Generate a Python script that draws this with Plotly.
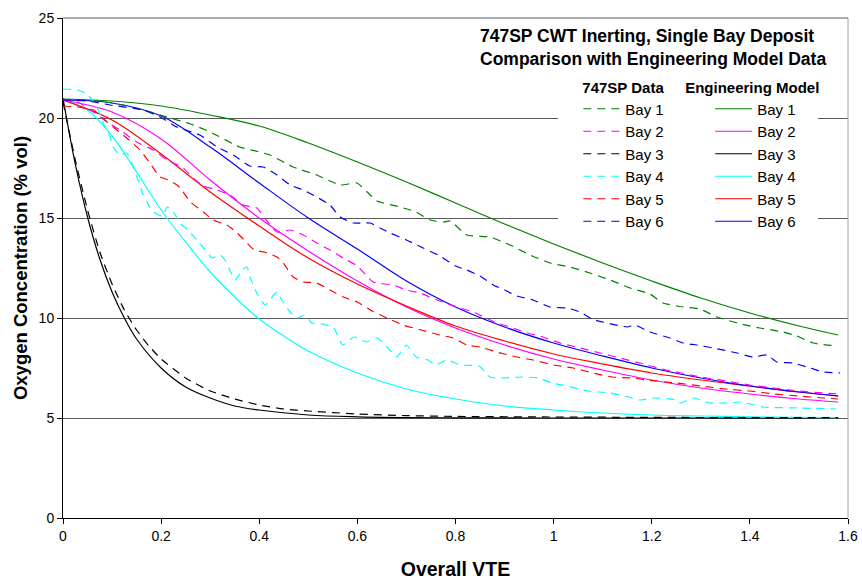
import plotly.graph_objects as go

# ---------------- data ----------------
bay_names = ["Bay 1", "Bay 2", "Bay 3", "Bay 4", "Bay 5", "Bay 6"]

# Engineering model (solid)
model_x = [0, 0.1, 0.2, 0.3, 0.4, 0.5, 0.6, 0.7, 0.8, 0.9, 1.0, 1.1, 1.2, 1.3, 1.4, 1.5, 1.58]
model_bay1 = [20.95, 20.85, 20.6, 20.15, 19.6, 18.75, 17.8, 16.8, 15.75, 14.7, 13.7, 12.75, 11.85, 11.0, 10.25, 9.6, 9.15]
model_bay2 = [20.9, 20.3, 18.95, 16.9, 15.0, 13.35, 11.85, 10.55, 9.5, 8.65, 7.95, 7.4, 6.9, 6.5, 6.2, 5.95, 5.8]
model_bay5 = [20.9, 19.9, 18.2, 16.3, 14.6, 13.0, 11.7, 10.6, 9.6, 8.85, 8.2, 7.7, 7.25, 6.9, 6.6, 6.3, 6.1]
model_bay6 = [20.9, 20.75, 20.1, 18.55, 16.75, 15.0, 13.45, 11.85, 10.55, 9.55, 8.75, 8.1, 7.5, 7.0, 6.6, 6.3, 6.1]

model_bay3_x = [0, 0.025, 0.05, 0.075, 0.1, 0.125, 0.15, 0.2, 0.25, 0.3, 0.35, 0.4, 0.5, 0.6, 0.8, 1.0, 1.2, 1.4, 1.58]
model_bay3 = [21.0, 17.7, 15.05, 12.95, 11.3, 10.0, 8.95, 7.5, 6.55, 6.0, 5.6, 5.4, 5.15, 5.06, 5.01, 5.0, 5.0, 5.0, 5.0]

model_bay4_x = [0, 0.05, 0.1, 0.15, 0.2, 0.25, 0.3, 0.35, 0.4, 0.45, 0.5, 0.6, 0.7, 0.8, 0.9, 1.0, 1.1, 1.2, 1.3, 1.4, 1.5, 1.58]
model_bay4 = [20.9, 20.4, 19.1, 17.3, 15.4, 13.8, 12.3, 11.05, 9.95, 9.1, 8.35, 7.25, 6.45, 5.95, 5.6, 5.4, 5.25, 5.15, 5.1, 5.06, 5.03, 5.02]

# 747SP measured data (dashed)
data_bay1_x = [0, 0.05, 0.1, 0.13, 0.163, 0.218, 0.26, 0.30, 0.36, 0.40, 0.422, 0.469, 0.517, 0.565, 0.599, 0.62,
               0.64, 0.687, 0.72, 0.748, 0.775, 0.789, 0.823, 0.87, 0.911, 0.952, 0.993, 1.033, 1.074, 1.115, 1.156,
               1.196, 1.223, 1.264, 1.298, 1.333, 1.374, 1.42, 1.468, 1.496, 1.529, 1.578]
data_bay1 = [20.9, 20.9, 20.75, 20.6, 20.4, 20.0, 19.7, 19.3, 18.55, 18.3, 18.15, 17.55, 17.15, 16.65, 16.75, 16.3,
             15.85, 15.55, 15.3, 14.9, 14.8, 14.85, 14.15, 14.05, 13.65, 13.15, 12.75, 12.55, 12.25, 11.9, 11.5,
             11.2, 10.75, 10.55, 10.45, 10.05, 9.75, 9.5, 9.3, 9.1, 8.75, 8.6]

data_bay2_x = [0, 0.03, 0.062, 0.09, 0.116, 0.15, 0.184, 0.212, 0.245, 0.265, 0.286, 0.314, 0.34, 0.367, 0.395,
               0.416, 0.436, 0.463, 0.49, 0.517, 0.544, 0.571, 0.60, 0.632, 0.673, 0.70, 0.728, 0.762, 0.803, 0.836,
               0.884, 0.911, 0.946, 0.978, 1.013, 1.054, 1.095, 1.135, 1.176, 1.22, 1.26, 1.30, 1.35, 1.40, 1.45,
               1.50, 1.55, 1.58]
data_bay2 = [20.9, 20.8, 20.3, 19.8, 19.4, 18.8, 18.4, 17.9, 17.5, 17.0, 16.6, 16.4, 16.15, 15.65, 15.5,
             14.85, 14.3, 14.4, 14.15, 13.75, 13.4, 13.0, 12.6, 11.8, 11.65, 11.4, 11.25, 10.9, 10.55, 10.3,
             9.75, 9.55, 9.25, 9.05, 8.75, 8.5, 8.25, 8.0, 7.75, 7.45, 7.25, 7.05, 6.85, 6.65, 6.5,
             6.35, 6.25, 6.2]

data_bay3_x = [0, 0.025, 0.05, 0.075, 0.1, 0.125, 0.15, 0.175, 0.2, 0.25, 0.3, 0.35, 0.4, 0.45, 0.5, 0.6, 0.7,
               0.8, 1.0, 1.2, 1.4, 1.58]
data_bay3 = [20.8, 17.9, 15.4, 13.3, 11.7, 10.4, 9.4, 8.6, 7.95, 7.0, 6.35, 5.95, 5.65, 5.45, 5.35, 5.2, 5.12,
             5.08, 5.05, 5.03, 5.02, 5.02]

data_bay4_x = [0, 0.03, 0.049, 0.069, 0.082, 0.096, 0.102, 0.116, 0.13, 0.14, 0.153, 0.163, 0.177, 0.19, 0.204,
               0.212, 0.225, 0.24, 0.255, 0.273, 0.29, 0.304, 0.32, 0.33, 0.34, 0.351, 0.365, 0.375, 0.381, 0.395,
               0.412, 0.426, 0.436, 0.446, 0.463, 0.477, 0.493, 0.507, 0.53, 0.552, 0.57, 0.593, 0.618, 0.64,
               0.666, 0.68, 0.70, 0.72, 0.744, 0.76, 0.782, 0.81, 0.848, 0.87, 0.893, 0.937, 0.968, 0.997, 1.027,
               1.07, 1.115, 1.152, 1.174, 1.205, 1.25, 1.257, 1.286, 1.317, 1.354, 1.382, 1.427, 1.502, 1.576]
data_bay4 = [21.45, 21.4, 21.2, 20.55, 19.75, 19.05, 18.55, 18.15, 18.25, 17.75, 16.9, 16.2, 15.55, 15.2, 15.1,
             15.55, 15.3, 14.7, 14.4, 13.9, 13.4, 13.0, 13.15, 12.9, 12.4, 11.9, 12.4, 12.55, 12.05, 11.25,
             10.65, 11.05, 11.3, 10.9, 10.3, 10.0, 10.15, 9.75, 9.7, 9.5, 8.65, 9.05, 8.8, 9.0,
             8.4, 8.05, 8.65, 8.05, 7.9, 7.65, 7.9, 7.65, 7.6, 7.05, 7.0, 7.05, 7.0, 6.75, 6.6,
             6.35, 6.25, 6.05, 5.9, 6.0, 5.9, 5.75, 6.0, 5.75, 5.75, 5.8, 5.55, 5.5, 5.45]

data_bay5_x = [0, 0.03, 0.062, 0.09, 0.11, 0.13, 0.157, 0.177, 0.198, 0.215, 0.235, 0.26, 0.286, 0.306, 0.334,
               0.355, 0.375, 0.39, 0.41, 0.436, 0.449, 0.469, 0.49, 0.517, 0.544, 0.571, 0.60, 0.63, 0.66, 0.693,
               0.73, 0.768, 0.795, 0.823, 0.85, 0.884, 0.925, 0.958, 1.0, 1.04, 1.08, 1.12, 1.162, 1.19, 1.25,
               1.3, 1.35, 1.4, 1.45, 1.5, 1.55, 1.58]
data_bay5 = [20.6, 20.55, 20.4, 19.8, 19.4, 19.0, 18.4, 17.75, 17.05, 16.9, 16.6, 15.8, 15.3, 14.9, 14.65,
             14.25, 13.75, 13.4, 13.3, 13.05, 12.75, 12.05, 11.8, 11.75, 11.4, 11.05, 10.8, 10.35, 10.0, 9.65,
             9.4, 9.15, 9.0, 8.65, 8.55, 8.3, 8.05, 7.9, 7.65, 7.5, 7.25, 7.05, 7.0, 6.9, 6.75,
             6.6, 6.45, 6.35, 6.2, 6.1, 6.0, 5.95]

data_bay6_x = [0, 0.05, 0.096, 0.163, 0.198, 0.232, 0.279, 0.314, 0.347, 0.381, 0.408, 0.436, 0.463, 0.49, 0.517,
               0.544, 0.565, 0.592, 0.626, 0.646, 0.667, 0.70, 0.734, 0.768, 0.80, 0.823, 0.85, 0.877, 0.90, 0.925,
               0.958, 0.993, 1.027, 1.054, 1.078, 1.109, 1.15, 1.165, 1.196, 1.237, 1.264, 1.292, 1.325, 1.374,
               1.406, 1.435, 1.455, 1.488, 1.523, 1.549, 1.584]
data_bay6 = [20.9, 20.85, 20.65, 20.4, 20.05, 19.55, 19.15, 18.55, 18.15, 17.6, 17.55, 17.15, 16.65, 16.4, 16.05,
             15.65, 15.05, 14.75, 14.75, 14.5, 14.25, 13.9, 13.5, 13.1, 12.6, 12.4, 12.1, 11.65, 11.4, 11.1,
             10.9, 10.55, 10.5, 10.3, 9.95, 9.75, 9.55, 9.65, 9.3, 9.0, 8.75, 8.65, 8.5, 8.25,
             8.05, 8.15, 7.8, 7.75, 7.5, 7.3, 7.25]

x_tick_vals = [0, 0.2, 0.4, 0.6, 0.8, 1.0, 1.2, 1.4, 1.6]
y_tick_vals = [0, 5, 10, 15, 20, 25]

# ---------------- styling ----------------
colors = ["#008000", "#FF00FF", "#000000", "#00FFFF", "#FF0000", "#0000FF"]
FONT = "Arial, 'Liberation Sans', sans-serif"
GRID = "#5a5a5a"

data_series = [(data_bay1_x, data_bay1), (data_bay2_x, data_bay2), (data_bay3_x, data_bay3),
               (data_bay4_x, data_bay4), (data_bay5_x, data_bay5), (data_bay6_x, data_bay6)]
model_series = [(model_x, model_bay1), (model_x, model_bay2), (model_bay3_x, model_bay3),
                (model_bay4_x, model_bay4), (model_x, model_bay5), (model_x, model_bay6)]

fig = go.Figure()

for i, (xs, ys) in enumerate(model_series):
    fig.add_trace(go.Scatter(
        x=xs, y=ys, mode="lines", name=bay_names[i],
        line=dict(color=colors[i], width=1.2, shape="spline", smoothing=1.0),
        legend="legend2", legendgroup="m%d" % i, showlegend=True,
    ))

for i, (xs, ys) in enumerate(data_series):
    fig.add_trace(go.Scatter(
        x=xs, y=ys, mode="lines", name=bay_names[i],
        line=dict(color=colors[i], width=1.2, dash="8px,6px", shape="spline", smoothing=0.5),
        legend="legend", legendgroup="d%d" % i, showlegend=True,
    ))

legend_common = dict(
    xanchor="left", yanchor="top", y=0.890,
    bgcolor="rgba(0,0,0,0)", borderwidth=0,
    font=dict(family=FONT, size=15, color="#000000"),
    itemwidth=37, tracegroupgap=0, traceorder="normal",
)
title_font = dict(family=FONT, size=15, color="#000000")

fig.update_layout(
    width=862, height=580,
    margin=dict(l=63, r=14, t=18, b=62, autoexpand=False),
    paper_bgcolor="white", plot_bgcolor="white",
    font=dict(family=FONT, size=14, color="#000000"),
    legend=dict(x=0.659, indentation=-2,
                title=dict(text="<b>747SP Data</b>", side="top", font=title_font),
                **legend_common),
    legend2=dict(x=0.790, indentation=27,
                 title=dict(text="<b>Engineering Model</b>", side="top", font=title_font),
                 **legend_common),
    xaxis=dict(
        range=[0, 1.6], tickvals=x_tick_vals, ticks="outside", ticklen=5, tickcolor="#000000",
        showline=True, linecolor="#000000", linewidth=1, showgrid=False, zeroline=False,
        tickfont=dict(family=FONT, size=14), automargin=False,
        title=dict(text="<b>Overall VTE</b>", font=dict(family=FONT, size=19.5), standoff=23),
    ),
    yaxis=dict(
        range=[0, 25], tickvals=y_tick_vals, ticks="outside", ticklen=5, tickcolor="#000000",
        showline=True, linecolor="#000000", linewidth=1, showgrid=True, gridcolor=GRID,
        gridwidth=1, zeroline=False, automargin=False,
        tickfont=dict(family=FONT, size=14),
        title=dict(text="<b>Oxygen Concentration (% vol)</b>", font=dict(family=FONT, size=18.5), standoff=6),
    ),
    shapes=[
        dict(type="rect", xref="paper", yref="paper", x0=0.6306, x1=0.9618, y0=0.572, y1=0.886,
             fillcolor="white", line=dict(width=0), layer="above"),
        dict(type="line", xref="paper", yref="paper", x0=1, x1=1, y0=0, y1=1,
             line=dict(color="#a0a0a0", width=1), layer="above"),
        dict(type="line", xref="paper", yref="paper", x0=0, x1=1, y0=1, y1=1,
             line=dict(color=GRID, width=1), layer="above"),
    ],
    annotations=[
        dict(text="<b>747SP CWT Inerting, Single Bay Deposit<br>Comparison with Engineering Model Data</b>",
             xref="paper", yref="paper", x=0.529, y=0.942, xanchor="left", yanchor="middle",
             align="left", showarrow=False, font=dict(family=FONT, size=17.5, color="#000000")),
    ],
)

fig.write_html("out.html")
